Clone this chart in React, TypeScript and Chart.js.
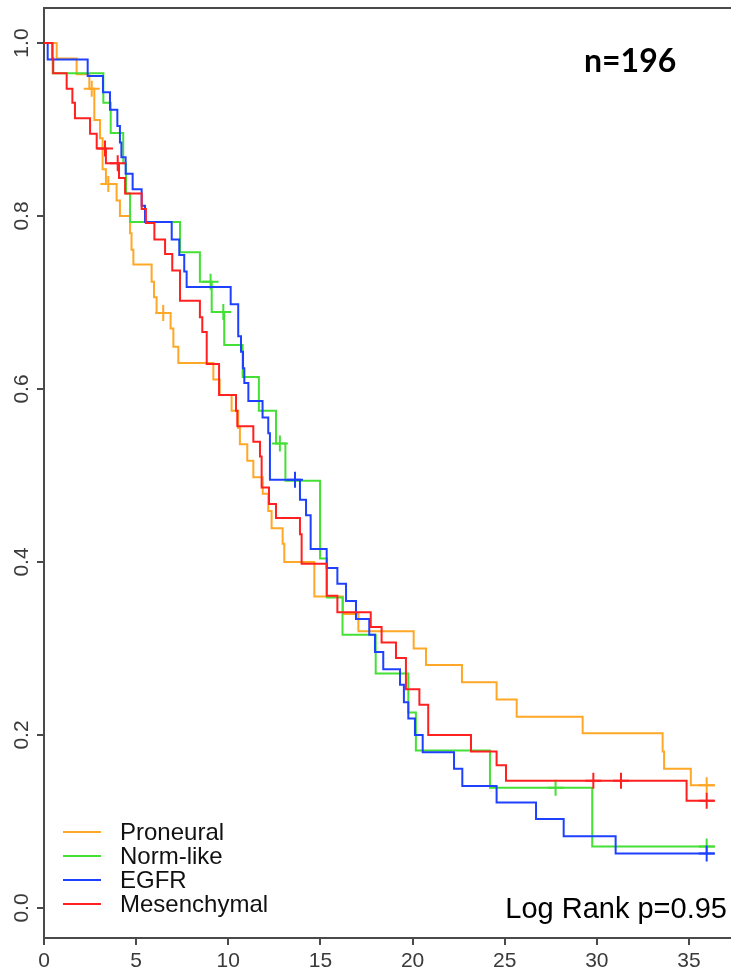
import React, { useEffect, useRef } from "react";
import { Chart, registerables } from "chart.js";

Chart.register(...registerables);

// ---- data ----
const seriesNames = ["Proneural", "Norm-like", "EGFR", "Mesenchymal"];
const seriesColors = ["#FFA726", "#44E036", "#1E40FF", "#FF2020"];

const proneuralTimes = [0, 0.69, 1.77, 2.46, 2.73, 3.04, 3.18, 3.36, 3.94, 4.12, 4.67, 4.75, 4.85, 5.84, 5.97, 6.11, 6.87, 7.02, 7.29, 9.19, 9.53, 10.18, 10.54, 10.63, 11.03, 11.36, 11.87, 12.17, 12.35, 12.95, 13.04, 14.67, 16.22, 17.06, 20.06, 20.73, 22.68, 24.56, 25.65, 29.23, 33.57, 33.65, 35.1, 36.4];
const proneuralSurv = [1, 0.982, 0.964, 0.947, 0.911, 0.89, 0.854, 0.837, 0.818, 0.8, 0.78, 0.761, 0.744, 0.724, 0.706, 0.688, 0.67, 0.649, 0.63, 0.611, 0.593, 0.575, 0.555, 0.536, 0.517, 0.498, 0.479, 0.459, 0.439, 0.421, 0.4, 0.36, 0.34, 0.32, 0.3, 0.281, 0.261, 0.241, 0.221, 0.202, 0.181, 0.161, 0.142, 0.142];
const proneuralCensorT = [2.59, 3.49, 6.47, 35.96];
const proneuralCensorS = [0.947, 0.837, 0.688, 0.142];

const normTimes = [0, 0.47, 3.22, 3.62, 4.3, 4.45, 4.67, 7.38, 8.46, 9.1, 9.78, 10.78, 11.66, 12.59, 13.1, 14.98, 15.35, 16.2, 18.0, 19.77, 20.18, 24.2, 29.75, 36.4];
const normSurv = [1, 0.965, 0.931, 0.896, 0.861, 0.826, 0.793, 0.758, 0.724, 0.689, 0.651, 0.614, 0.575, 0.537, 0.494, 0.404, 0.359, 0.316, 0.271, 0.226, 0.182, 0.139, 0.071, 0.071];
const normCensorT = [9.04, 9.73, 12.8, 27.76, 35.96];
const normCensorS = [0.724, 0.689, 0.537, 0.139, 0.071];

const egfrTimes = [0, 0.2, 2.37, 3.2, 3.58, 3.98, 4.12, 4.2, 4.43, 4.81, 5.3, 5.48, 6.93, 7.34, 7.61, 7.74, 10.13, 10.54, 10.69, 10.8, 10.87, 11.09, 11.86, 12.17, 12.26, 13.89, 14.22, 14.47, 15.34, 15.92, 16.39, 16.93, 17.65, 17.96, 18.41, 19.32, 19.53, 19.77, 20.13, 20.55, 22.25, 22.7, 24.56, 26.7, 28.2, 31.02, 36.4];
const egfrSurv = [1, 0.981, 0.962, 0.943, 0.923, 0.904, 0.885, 0.868, 0.849, 0.831, 0.812, 0.793, 0.773, 0.755, 0.736, 0.718, 0.698, 0.661, 0.643, 0.624, 0.607, 0.586, 0.567, 0.549, 0.495, 0.472, 0.454, 0.415, 0.393, 0.375, 0.355, 0.334, 0.316, 0.296, 0.276, 0.258, 0.238, 0.219, 0.2, 0.18, 0.161, 0.141, 0.122, 0.103, 0.083, 0.063, 0.063];
const egfrCensorT = [13.62, 35.96];
const egfrCensorS = [0.495, 0.063];

const mesTimes = [0, 0.45, 0.5, 1.23, 1.54, 1.68, 2.5, 2.86, 3.36, 4.07, 4.4, 5.3, 5.53, 5.99, 6.57, 6.96, 7.38, 8.46, 8.59, 8.83, 9.5, 10.42, 10.49, 11.36, 11.72, 11.81, 12.21, 12.59, 13.89, 13.98, 15.34, 15.92, 17.73, 18.32, 19.1, 19.64, 20.37, 20.85, 23.17, 24.56, 25.07, 34.87, 36.4];
const mesSurv = [1, 0.982, 0.965, 0.947, 0.931, 0.913, 0.895, 0.878, 0.861, 0.844, 0.826, 0.808, 0.792, 0.773, 0.756, 0.737, 0.702, 0.683, 0.666, 0.629, 0.593, 0.575, 0.557, 0.539, 0.522, 0.486, 0.467, 0.451, 0.432, 0.398, 0.361, 0.342, 0.325, 0.307, 0.289, 0.253, 0.235, 0.2, 0.181, 0.165, 0.147, 0.124, 0.124];
const mesCensorT = [3.31, 4.0, 29.81, 31.31, 35.96];
const mesCensorS = [0.878, 0.861, 0.147, 0.147, 0.124];

const xTickValues = [0, 5, 10, 15, 20, 25, 30, 35];
const yTickValues = [0, 0.2, 0.4, 0.6, 0.8, 1.0];
const yTickLabels = ["0.0", "0.2", "0.4", "0.6", "0.8", "1.0"];
const sampleSizeText = "n=196";
const pValueText = "Log Rank p=0.95";

const allTimes = [proneuralTimes, normTimes, egfrTimes, mesTimes];
const allSurv = [proneuralSurv, normSurv, egfrSurv, mesSurv];
const allCensorT = [proneuralCensorT, normCensorT, egfrCensorT, mesCensorT];
const allCensorS = [proneuralCensorS, normCensorS, egfrCensorS, mesCensorS];

const AXIS_COLOR = "#4a4a4a";
const LABEL_COLOR = "#3a3a3a";
const FONT = '"Liberation Sans", Arial, sans-serif';

export default function App() {
  const canvasRef = useRef<HTMLCanvasElement | null>(null);

  useEffect(() => {
    const canvas = canvasRef.current;
    if (!canvas) return;

    const datasets: any[] = [];
    seriesNames.forEach((name, i) => {
      datasets.push({
        type: "line",
        label: name,
        data: allTimes[i].map((t, k) => ({ x: t, y: allSurv[i][k] })),
        borderColor: seriesColors[i],
        borderWidth: 2,
        stepped: "before",
        pointRadius: 0,
        fill: false,
        order: 8 - i * 2,
      });
      datasets.push({
        type: "scatter",
        label: name + " censored",
        data: allCensorT[i].map((t, k) => ({ x: t, y: allCensorS[i][k] })),
        pointStyle: "cross",
        pointRadius: 8,
        pointBorderWidth: 2,
        pointBorderColor: seriesColors[i],
        pointBackgroundColor: seriesColors[i],
        showLine: false,
        order: 7 - i * 2,
      });
    });

    const overlay = {
      id: "overlay",
      afterDraw(chart: any) {
        const { ctx, chartArea, scales } = chart;
        ctx.save();
        // top border of the box
        ctx.strokeStyle = AXIS_COLOR;
        ctx.lineWidth = 2;
        ctx.beginPath();
        ctx.moveTo(chartArea.left, chartArea.top);
        ctx.lineTo(chartArea.right, chartArea.top);
        ctx.stroke();

        // rotated y tick labels (R style)
        ctx.fillStyle = LABEL_COLOR;
        ctx.font = "21px " + FONT;
        ctx.textAlign = "center";
        ctx.textBaseline = "middle";
        yTickValues.forEach((v, i) => {
          const py = scales.y.getPixelForValue(v);
          ctx.save();
          ctx.translate(22, py);
          ctx.rotate(-Math.PI / 2);
          ctx.fillText(yTickLabels[i], 0, 0);
          ctx.restore();
        });

        // legend
        const lx0 = 63, lx1 = 101, tx = 120, ly0 = 832, dy = 24;
        ctx.font = "24px " + FONT;
        ctx.textAlign = "left";
        seriesNames.forEach((name, i) => {
          const y = ly0 + i * dy;
          ctx.strokeStyle = seriesColors[i];
          ctx.lineWidth = 2;
          ctx.beginPath();
          ctx.moveTo(lx0, y);
          ctx.lineTo(lx1, y);
          ctx.stroke();
          ctx.fillStyle = "#111";
          ctx.fillText(name, tx, y + 1);
        });

        // annotations
        ctx.fillStyle = "#000";
        ctx.font = "bold 32px Lato, " + FONT;
        ctx.textAlign = "left";
        ctx.fillText(sampleSizeText, 584, 62);
        ctx.font = "29px " + FONT;
        ctx.textAlign = "right";
        ctx.fillText(pValueText, 727, 910);
        ctx.restore();
      },
    };

    const chart = new Chart(canvas, {
      type: "line",
      data: { datasets },
      options: {
        animation: false,
        responsive: false,
        devicePixelRatio: 1,
        layout: { autoPadding: false, padding: { left: 0, right: 0, top: 8, bottom: 0 } },
        plugins: { legend: { display: false }, tooltip: { enabled: false } },
        scales: {
          x: {
            type: "linear",
            min: 0,
            max: 37.28,
            afterBuildTicks: (s: any) => {
              s.ticks = xTickValues.map((v) => ({ value: v }));
            },
            afterFit: (s: any) => {
              s.height = 37;
              s.paddingLeft = 0;
              s.paddingRight = 0;
            },
            grid: { drawOnChartArea: false, drawTicks: true, tickLength: 7, color: AXIS_COLOR, lineWidth: 2 },
            border: { display: true, color: AXIS_COLOR, width: 2 },
            ticks: { color: LABEL_COLOR, font: { size: 21, family: FONT }, padding: 4, maxRotation: 0, autoSkip: false },
          },
          y: {
            type: "linear",
            min: -0.0347,
            max: 1.0405,
            afterBuildTicks: (s: any) => {
              s.ticks = yTickValues.map((v) => ({ value: v }));
            },
            afterFit: (s: any) => {
              s.width = 44;
              s.paddingTop = 0;
              s.paddingBottom = 0;
            },
            grid: { drawOnChartArea: false, drawTicks: true, tickLength: 7, color: AXIS_COLOR, lineWidth: 2 },
            border: { display: true, color: AXIS_COLOR, width: 2 },
            ticks: { display: false },
          },
        },
      },
      plugins: [overlay],
    } as any);

    return () => chart.destroy();
  }, []);

  return (
    <div style={{ position: "fixed", left: 0, top: 0, width: 731, height: 975, background: "#fff" }}>
      <canvas ref={canvasRef} width={731} height={975} style={{ width: 731, height: 975, display: "block" }} />
    </div>
  );
}
